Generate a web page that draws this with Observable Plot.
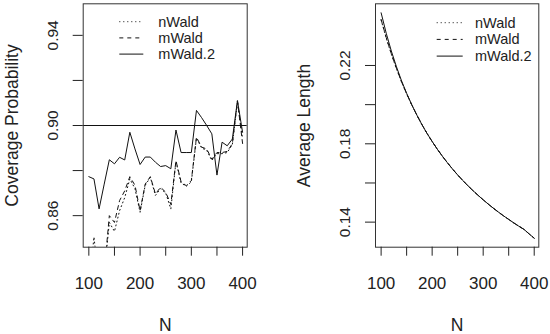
<!DOCTYPE html>
<html>
<head>
<meta charset="utf-8">
<script src="https://cdn.jsdelivr.net/npm/d3@7"></script>
<script src="https://cdn.jsdelivr.net/npm/@observablehq/plot@0.6"></script>
<style>
  html, body { margin: 0; padding: 0; background: white; }
  #wrap { display: flex; width: 550px; height: 334px; }
  svg { display: block; }
</style>
</head>
<body>
<div id="wrap"></div>
<script>
// ---- data ----
const N = [100,110,120,130,140,150,160,170,180,190,200,210,220,230,240,250,260,270,280,290,300,310,320,330,340,350,360,370,380,390,400];

// Left panel: coverage probability
const covNWald = [0.828,0.8505,0.830,0.834,0.857,0.853,0.8622,0.868,0.8763,0.872,0.8615,0.8735,0.877,0.869,0.872,0.870,0.863,0.884,0.8745,0.873,0.875,0.8945,0.890,0.889,0.8845,0.8875,0.8875,0.888,0.8915,0.9105,0.894];
const covMWald = [0.830,0.838,0.832,0.835,0.860,0.857,0.8667,0.871,0.8773,0.8735,0.8622,0.874,0.8773,0.8696,0.8726,0.8704,0.865,0.8844,0.875,0.8733,0.8756,0.8948,0.8904,0.8896,0.885,0.888,0.888,0.8885,0.8919,0.911,0.892];
const covMWald2 = [0.8773,0.8763,0.863,0.874,0.8848,0.883,0.8859,0.8847,0.897,0.8896,0.8827,0.886,0.886,0.8837,0.8818,0.8822,0.8808,0.898,0.888,0.888,0.888,0.9067,0.9035,0.900,0.8963,0.878,0.8926,0.891,0.894,0.911,0.897];

// Right panel: average length
const lenMWald2 = [0.2469,0.2365,0.2274,0.2194,0.2122,0.2058,0.2000,0.1947,0.1898,0.1853,0.1812,0.1773,0.1737,0.1703,0.1671,0.1641,0.1613,0.1586,0.1561,0.1537,0.1514,0.1492,0.1471,0.1451,0.1432,0.1414,0.1396,0.1379,0.1363,0.1340,0.1318];
const lenNWald = [0.2432,0.2340,0.2258,0.2184,0.2116,0.2055,0.1999,0.1947,0.1898,0.1853,0.1812,0.1773,0.1737,0.1703,0.1671,0.1641,0.1613,0.1586,0.1561,0.1537,0.1514,0.1492,0.1471,0.1451,0.1432,0.1414,0.1396,0.1379,0.1363,0.1340,0.1318];
const lenMWald = [0.2435,0.2343,0.2260,0.2186,0.2117,0.2056,0.1999,0.1947,0.1898,0.1853,0.1812,0.1773,0.1737,0.1703,0.1671,0.1641,0.1613,0.1586,0.1561,0.1537,0.1514,0.1492,0.1471,0.1451,0.1432,0.1414,0.1396,0.1379,0.1363,0.1340,0.1318];

const seriesNames = ["nWald", "mWald", "mWald.2"];
const dashes = ["1,3", "4,4", null];

const xTicks = [100,150,200,250,300,350,400];
const covTicks = [0.86,0.88,0.90,0.92,0.94];
const covLabelTicks = [0.86,0.90,0.94];
const lenTicks = [0.14,0.16,0.18,0.20,0.22];
const lenLabelTicks = [0.14,0.18,0.22];
const refLine = [0.90];

const FONT = "'Liberation Sans', Arial, Helvetica, sans-serif";

function rows(vals, name) { return N.map((n, i) => ({N: n, v: vals[i], s: name})); }

function panel({width, mL, mR, yDomain, series, yTicks, yLabelTicks, yTitle, extra, legend}) {
  const marks = [];
  if (extra) marks.push(...extra);
  series.forEach((vals, i) => {
    marks.push(Plot.line(rows(vals, seriesNames[i]), {
      x: "N", y: "v", stroke: "#111", strokeWidth: 1,
      strokeDasharray: dashes[i] || undefined, clip: true
    }));
  });
  marks.push(
    Plot.frame({stroke: "#333", strokeWidth: 1}),
    Plot.axisX({ticks: xTicks, tickSize: 9, tickPadding: 20.5,
      tickFormat: d => d % 100 === 0 ? String(d) : "", fontSize: 17, label: null}),
    Plot.axisY({ticks: yTicks, tickSize: 10, tickFormat: () => "", label: null}),
    Plot.text(yLabelTicks, {y: d => d, text: d => d.toFixed(2), frameAnchor: "left",
      rotate: -90, dx: -30.2, fontSize: 15.5, textAnchor: "middle", lineAnchor: "middle", fill: "#222"}),
    Plot.text([yTitle], {frameAnchor: "left", rotate: -90, dx: -71, fontSize: 17.5,
      textAnchor: "middle", lineAnchor: "middle", fill: "#222"}),
    Plot.text(["N"], {frameAnchor: "bottom", dy: 78.3, fontSize: 17.5,
      textAnchor: "middle", lineAnchor: "middle", fill: "#222"})
  );
  const svg = Plot.plot({
    width, height: 334,
    marginLeft: mL, marginRight: mR, marginTop: 3.3, marginBottom: 87.3,
    x: {type: "linear", domain: [89, 409]},
    y: {type: "linear", domain: yDomain},
    style: {fontFamily: FONT, color: "#222", background: "white", overflow: "visible"},
    marks
  });
  // legend (inside the plot, top-right, no box)
  const g = d3.select(svg).append("g").attr("font-family", FONT).attr("font-size", "14.5px")
    .attr("text-anchor", "start");
  seriesNames.forEach((name, i) => {
    const y = legend.y0 + i * legend.dy;
    g.append("line").attr("x1", legend.x1).attr("x2", legend.x2).attr("y1", y).attr("y2", y)
      .attr("stroke", "#111").attr("stroke-width", 1)
      .attr("stroke-dasharray", dashes[i] || null);
    g.append("text").attr("x", legend.xt).attr("y", y).attr("dy", "0.35em")
      .attr("text-anchor", "start").attr("fill", "#222").text(name);
  });
  return svg;
}

const wrap = document.getElementById("wrap");
wrap.appendChild(panel({
  width: 275, mL: 82.7, mR: 28.3,
  yDomain: [0.846, 0.954],
  series: [covNWald, covMWald, covMWald2],
  yTicks: covTicks, yLabelTicks: covLabelTicks, yTitle: "Coverage Probability",
  extra: [Plot.ruleY(refLine, {stroke: "#111", strokeWidth: 1})],
  legend: {x1: 119.3, x2: 143.3, xt: 158.3, y0: 21.7, dy: 16.2}
}));
wrap.appendChild(panel({
  width: 275, mL: 100, mR: 11.7,
  yDomain: [0.1272, 0.2515],
  series: [lenNWald, lenMWald, lenMWald2],
  yTicks: lenTicks, yLabelTicks: lenLabelTicks, yTitle: "Average Length",
  extra: [],
  legend: {x1: 161.7, x2: 187.7, xt: 200, y0: 22.7, dy: 16.7}
}));
</script>
</body>
</html>
